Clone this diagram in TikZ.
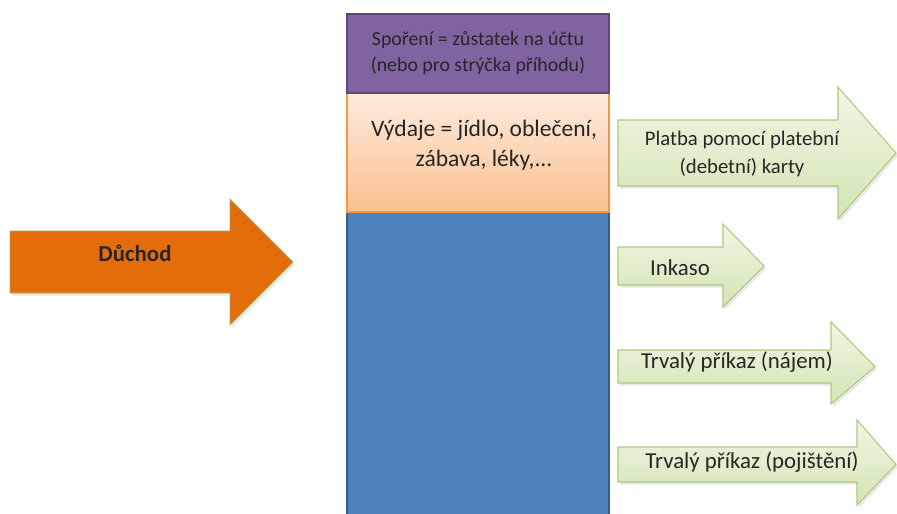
\documentclass[tikz,border=0pt]{standalone}
\usepackage{fontspec}
\setmainfont{Carlito}
\usetikzlibrary{positioning,shadows}

\definecolor{incomeC}{HTML}{E46C0A}
\definecolor{incomeB}{HTML}{A7AE62}
\definecolor{saveC}{HTML}{8064A2}
\definecolor{saveB}{HTML}{5F497A}
\definecolor{spendTop}{HTML}{FDEBDD}
\definecolor{spendBot}{HTML}{FAC08F}
\definecolor{spendB}{HTML}{F79646}
\definecolor{restC}{HTML}{4F81BD}
\definecolor{restB}{HTML}{385D8A}
\definecolor{payTop}{HTML}{F0F6E6}
\definecolor{payBot}{HTML}{D3E5B3}
\definecolor{payB}{HTML}{AACB7E}
\definecolor{txt}{HTML}{262626}

\tikzset{
    softshadow/.style = {drop shadow={shadow xshift=1.2pt, shadow yshift=-1.5pt, opacity=0.18}},
    incomearrow/.style = {draw=incomeB, line width=0.5pt, fill=incomeC, softshadow},
    savebox/.style = {draw=saveB, line width=0.8pt, fill=saveC},
    spendbox/.style = {draw=spendB, line width=0.8pt, top color=spendTop, bottom color=spendBot},
    restbox/.style = {draw=restB, line width=0.8pt, fill=restC},
    payarrow/.style = {draw=payB, line width=0.6pt, top color=payTop, bottom color=payBot, softshadow},
    lbl/.style = {text=txt, align=center, inner sep=0pt,
        font=\fontsize{11.8}{15.8}\selectfont},
    biglbl/.style = {lbl, font=\fontsize{13}{17}\selectfont},
}
% block arrow: style, left, body top, body bottom, head base, head top, head bottom, tip
\newcommand\blockarrow[8]{%
    \path[#1] (#2,#3) -- (#5,#3) -- (#5,#6) -- (#8,{(#3+#4)/2}) -- (#5,#7)
        -- (#5,#4) -- (#2,#4) -- cycle;
}

\begin{document}
\begin{tikzpicture}[x=0.02cm, y=-0.02cm]

    \useasboundingbox (0,0) rectangle (897,514);

    % income
    \blockarrow{incomearrow}{10}{231}{293}{230}{199}{325}{293}
    \node (income) [biglbl] at (135,253) {\bfseries Důchod};

    % account column
    \path[restbox] (347,212) rectangle (609,518);
    \path[spendbox] (347,93) rectangle (609,212);
    \path[savebox] (347,14) rectangle (609,93);
    \node (savings) [lbl, font=\fontsize{11.3}{14.5}\selectfont] at (478,53) {Spoření = zůstatek na účtu\\(nebo pro strýčka příhodu)};
    \node (spending) [biglbl, font=\fontsize{13.4}{17}\selectfont] at (484,145) {Výdaje = jídlo, oblečení,\\zábava, léky,...};

    % payments
    \blockarrow{payarrow}{618}{120}{186}{838}{87}{219}{896}
    \blockarrow{payarrow}{618}{247}{285}{723}{224}{307}{764}
    \blockarrow{payarrow}{618}{350}{383}{831}{322}{404}{875}
    \blockarrow{payarrow}{618}{447}{482}{857}{420}{505}{896}
    \node (card) [lbl] at (742,154) {Platba pomocí platební\\(debetní) karty};
    \node (inkaso) [biglbl] at (680,268) {Inkaso};
    \node (rent) [biglbl] at (737,362) {Trvalý příkaz (nájem)};
    \node (insurance) [biglbl] at (752,462) {Trvalý příkaz (pojištění)};

\end{tikzpicture}
\end{document}
